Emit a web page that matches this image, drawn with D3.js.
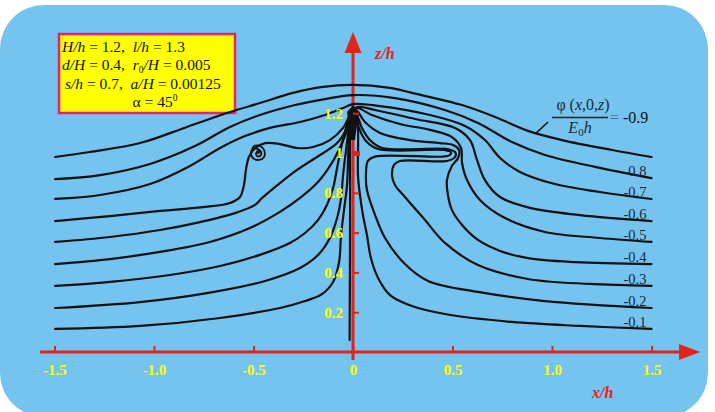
<!DOCTYPE html>
<html>
<head>
<meta charset="utf-8">
<script src="https://cdn.jsdelivr.net/npm/d3@7"></script>
<style>
  body { margin: 0; background: #fff; }
  svg { display: block; font-family: "Liberation Serif", "Times New Roman", serif; }
  .pre { white-space: pre; }
</style>
</head>
<body>
<svg id="chart" width="715" height="412"></svg>
<script>
// tick values and labels
const xTicks = [-1.5, -1, -0.5, 0, 0.5, 1, 1.5];
const xTickLabels = ['-1.5', '-1.0', '-0.5', '0', '0.5', '1.0', '1.5'];
const zTicks = [0.2, 0.4, 0.6, 0.8, 1, 1.2];
const zTickLabels = ['0.2', '0.4', '0.6', '0.8', '1', '1.2'];

// contour levels phi(x,0,z)/(E0 h)
const levels = [-0.1, -0.2, -0.3, -0.4, -0.5, -0.6, -0.7, -0.8, -0.9];

// contour points [x/h, z/h], left edge -> right edge
const phi01 = [[-1.497,0.116],[-1.070,0.131],[-0.668,0.171],[-0.367,0.221],[-0.241,0.256],[-0.156,0.291],[-0.100,0.352],[-0.070,0.452],[-0.060,0.588],[-0.045,0.714],[-0.030,0.839],[-0.025,0.965],[-0.020,1.090],[-0.005,1.201],
  [0.015,1.206],[0.025,1.116],[0.025,0.889],[0.035,0.789],[0.050,0.688],[0.070,0.588],[0.090,0.472],[0.126,0.372],[0.186,0.286],[0.296,0.231],[0.462,0.191],[0.799,0.151],[1.141,0.131],[1.5,0.116]];
const phi02 = [[-1.497,0.221],[-1.070,0.251],[-0.734,0.296],[-0.442,0.357],[-0.266,0.422],[-0.176,0.487],[-0.116,0.573],[-0.080,0.673],[-0.060,0.774],[-0.050,0.889],[-0.035,1.015],[-0.020,1.126],[-0.005,1.201],
  [0.010,1.206],[0.030,1.126],[0.065,1.060],[0.126,1.020],[0.462,1.015],[0.492,1.005],[0.487,0.990],[0.452,0.982],[0.111,0.982],[0.075,0.960],[0.065,0.889],[0.070,0.814],[0.111,0.688],[0.161,0.573],[0.261,0.442],[0.377,0.357],[0.628,0.302],[0.965,0.256],[1.5,0.221]];
const phi03 = [[-1.497,0.332],[-1.221,0.352],[-0.920,0.387],[-0.668,0.432],[-0.457,0.492],[-0.317,0.548],[-0.241,0.598],[-0.176,0.663],[-0.131,0.739],[-0.100,0.824],[-0.080,0.925],[-0.060,1.025],[-0.035,1.126],[-0.010,1.201],
  [0.010,1.206],[0.045,1.126],[0.085,1.065],[0.146,1.025],[0.472,1.020],[0.513,1.005],[0.513,0.980],[0.472,0.960],[0.236,0.960],[0.206,0.940],[0.196,0.889],[0.211,0.839],[0.261,0.779],[0.362,0.663],[0.462,0.548],[0.628,0.437],[0.879,0.367],[1.191,0.342],[1.5,0.332]];
const phi04 = [[-1.497,0.442],[-1.221,0.467],[-0.970,0.503],[-0.719,0.553],[-0.518,0.623],[-0.367,0.704],[-0.266,0.774],[-0.176,0.854],[-0.106,0.950],[-0.055,1.050],[-0.020,1.141],[-0.005,1.201],
  [0.015,1.216],[0.060,1.156],[0.136,1.101],[0.286,1.065],[0.437,1.050],[0.503,1.040],[0.533,1.015],[0.528,0.975],[0.497,0.935],[0.472,0.864],[0.477,0.789],[0.497,0.714],[0.548,0.638],[0.628,0.563],[0.739,0.508],[0.879,0.472],[1.116,0.452],[1.5,0.442]];
const phi05 = [[-1.497,0.553],[-1.221,0.578],[-0.970,0.613],[-0.769,0.653],[-0.593,0.698],[-0.492,0.739],[-0.457,0.774],[-0.367,0.849],[-0.281,0.915],[-0.181,0.980],[-0.080,1.050],[-0.030,1.126],[-0.005,1.206],
  [0.020,1.226],[0.095,1.191],[0.236,1.146],[0.387,1.116],[0.497,1.080],[0.543,1.025],[0.548,0.950],[0.573,0.864],[0.638,0.764],[0.764,0.673],[0.965,0.603],[1.241,0.573],[1.5,0.553]];
const phi06 = [[-1.497,0.658],[-1.221,0.683],[-0.970,0.709],[-0.744,0.729],[-0.618,0.749],[-0.568,0.779],[-0.548,0.839],[-0.538,0.915],[-0.523,0.980],[-0.492,1.025],[-0.442,1.050],[-0.367,1.045],[-0.281,1.025],[-0.201,1.030],[-0.116,1.065],[-0.050,1.126],[-0.010,1.201],
  [0.020,1.231],[0.111,1.216],[0.312,1.171],[0.513,1.126],[0.588,1.065],[0.623,0.965],[0.663,0.864],[0.739,0.779],[0.889,0.724],[1.141,0.688],[1.5,0.658]];
const phi07 = [[-1.497,0.769],[-1.271,0.789],[-1.020,0.844],[-0.819,0.935],[-0.668,1.025],[-0.543,1.085],[-0.417,1.126],[-0.266,1.156],[-0.141,1.191],[-0.050,1.226],[0,1.246],
  [0.136,1.236],[0.387,1.191],[0.563,1.136],[0.663,1.065],[0.739,0.975],[0.839,0.905],[1.015,0.844],[1.241,0.804],[1.5,0.769]];
const phi08 = [[-1.497,0.869],[-1.271,0.889],[-1.020,0.945],[-0.794,1.035],[-0.618,1.131],[-0.467,1.191],[-0.291,1.241],[-0.141,1.271],[0,1.291],
  [0.211,1.276],[0.462,1.216],[0.628,1.151],[0.799,1.055],[0.965,0.990],[1.216,0.930],[1.5,0.874]];
const phi09 = [[-1.497,0.980],[-1.322,1.005],[-1.070,1.050],[-0.834,1.131],[-0.618,1.206],[-0.467,1.251],[-0.302,1.302],[-0.151,1.332],[0,1.342],
  [0.186,1.327],[0.296,1.302],[0.548,1.241],[0.714,1.181],[0.879,1.111],[1.050,1.065],[1.302,1.015],[1.5,0.980]];

// line hugging the z axis, the small eddy on the left, the dark spot at the source
const axisHug = [[-0.015,1.17],[-0.015,0.6],[-0.017,0.06]];
const eddy = [[-0.508,1.015],[-0.497,1.035],[-0.467,1.035],[-0.447,1.015],[-0.447,0.980],[-0.472,0.965],[-0.503,0.975],[-0.513,1.000],[-0.503,1.020],[-0.477,1.020],[-0.462,1.005],[-0.467,0.985],[-0.482,0.985],[-0.487,1.000],[-0.477,1.005]];
const sourceSpot = [[-0.030,1.206],[0,1.241],[0.030,1.206],[0.020,1.141],[0.010,1.065],[-0.010,1.065],[-0.020,1.141]];

const contours = [phi01, phi02, phi03, phi04, phi05, phi06, phi07, phi08, phi09]
  .map((pts, i) => ({ level: levels[i], pts }));

const red = '#e2231a';
const ink = '#111';

const svg = d3.select('#chart');
const x = d3.scaleLinear().domain([-1.5, 1.5]).range([54.5, 651.5]);
const z = d3.scaleLinear().domain([0, 1.2]).range([352, 113.2]);

// background card
svg.append('rect').attr('x', 0).attr('y', 5).attr('width', 708).attr('height', 412)
  .attr('rx', 44).attr('fill', '#75c4ef');

// parameter box
const box = svg.append('g');
box.append('rect').attr('x', 59).attr('y', 34).attr('width', 176).attr('height', 79)
  .attr('fill', '#ffff00').attr('stroke', '#e4246f').attr('stroke-width', 2.5);
// parts: [text, style, dy]
function boxLine(xp, yp, parts, anchor) {
  const txt = box.append('text').attr('x', xp).attr('y', yp).attr('font-size', 15.5)
    .attr('fill', '#111').attr('class', 'pre').attr('text-anchor', anchor || 'start');
  parts.forEach(p => {
    const s = txt.append('tspan').text(p[0]);
    if (p[1] === 'i') s.attr('font-style', 'italic');
    if (p[1] === 'sub' || p[1] === 'sup') s.attr('font-size', 9.5);
    if (p[2]) s.attr('dy', p[2]);
  });
}
boxLine(62, 52, [['H/h', 'i'], [' = 1.2,  '], ['l/h', 'i'], [' = 1.3']]);
boxLine(62, 70, [['d/H', 'i'], [' = 0.4,  '], ['r', 'i'], ['0', 'sub', 2.5], ['/H', 'i', -2.5], [' = 0.005']]);
boxLine(65, 88.5, [['s/h', 'i'], [' = 0.7,  '], ['a/H', 'i'], [' = 0.00125']]);
boxLine(155, 107, [['\u03b1 = 45'], ['0', 'sup', -6]], 'middle');

// axes with arrows
const axes = svg.append('g');
axes.append('line').attr('x1', x(-1.573)).attr('x2', x(1.66)).attr('y1', z(0)).attr('y2', z(0))
  .attr('stroke', red).attr('stroke-width', 3);
const xTip = x(1.744);
axes.append('path').attr('d', `M${xTip},${z(0)}L${xTip - 21},${z(0) - 8}L${xTip - 21},${z(0) + 8}Z`).attr('fill', red);
axes.append('line').attr('x1', x(0)).attr('x2', x(0)).attr('y1', z(-0.04)).attr('y2', z(1.52))
  .attr('stroke', red).attr('stroke-width', 3);
const zTip = z(1.608);
axes.append('path').attr('d', `M${x(0)},${zTip}L${x(0) - 8.5},${zTip + 21}L${x(0) + 8.5},${zTip + 21}Z`).attr('fill', red);

const xAxis = svg.append('g').attr('transform', `translate(0,${z(0)})`)
  .call(d3.axisBottom(x).tickValues(xTicks).tickSizeInner(-6).tickSizeOuter(0).tickPadding(12)
    .tickFormat((d, i) => xTickLabels[i]));
xAxis.select('.domain').remove();
xAxis.selectAll('.tick line').attr('stroke', red).attr('stroke-width', 2);

const zAxis = svg.append('g').attr('transform', `translate(${x(0)},0)`)
  .call(d3.axisLeft(z).tickValues(zTicks).tickSizeInner(-6).tickSizeOuter(0).tickPadding(10)
    .tickFormat((d, i) => zTickLabels[i]));
zAxis.select('.domain').remove();
zAxis.selectAll('.tick line').attr('stroke', red)
  .attr('stroke-width', d => d === 1 ? 5 : 2).attr('x2', d => d === 1 ? 7 : 6);

// contours
const line = d3.line().x(d => x(d[0])).y(d => z(d[1])).curve(d3.curveCatmullRom.alpha(0.5));
const lines = svg.append('g').attr('fill', 'none').attr('stroke', ink)
  .attr('stroke-width', 2.2).attr('stroke-linejoin', 'round').attr('stroke-linecap', 'round');
lines.selectAll('path.contour').data(contours).join('path').attr('class', 'contour')
  .attr('d', d => line(d.pts));
lines.append('path').attr('d', line(axisHug));
lines.append('path').attr('d', line(eddy)).attr('stroke-width', 1.8);
svg.append('circle').attr('cx', x(eddy[eddy.length - 1][0])).attr('cy', z(eddy[eddy.length - 1][1]))
  .attr('r', 2).attr('fill', ink);
svg.append('path').attr('d', d3.line().x(d => x(d[0])).y(d => z(d[1])).curve(d3.curveLinearClosed)(sourceSpot))
  .attr('fill', ink);

// tick label styling (drawn above the contours)
[xAxis, zAxis].forEach(g => {
  g.raise();
  g.selectAll('.tick text').attr('fill', '#ffff00').attr('font-weight', 'bold')
    .attr('font-size', 15).attr('font-family', '"Liberation Serif", "Times New Roman", serif');
});

// level labels on the right
const labelColor = '#1c2733';
svg.append('g').selectAll('text').data(contours.filter(c => c.level !== -0.9)).join('text')
  .attr('x', d => x(d.pts[d.pts.length - 1][0]) - 5)
  .attr('y', d => z(d.pts[d.pts.length - 1][1]) - 2)
  .attr('text-anchor', 'end').attr('font-size', 14.5).attr('fill', labelColor)
  .text(d => String(d.level));

// fraction label for the -0.9 line
const top9 = contours.find(c => c.level === -0.9);
const fr = svg.append('g').attr('fill', labelColor).attr('font-size', 16);
const num = fr.append('text').attr('x', 583).attr('y', 110).attr('text-anchor', 'middle').attr('class', 'pre');
num.append('tspan').text('\u03c6 (');
num.append('tspan').text('x').attr('font-style', 'italic');
num.append('tspan').text(',0,');
num.append('tspan').text('z').attr('font-style', 'italic');
num.append('tspan').text(')');
fr.append('line').attr('x1', 552).attr('x2', 608).attr('y1', 117.5).attr('y2', 117.5)
  .attr('stroke', labelColor).attr('stroke-width', 1.3);
const den = fr.append('text').attr('x', 580).attr('y', 133).attr('text-anchor', 'middle');
den.append('tspan').text('E').attr('font-style', 'italic');
den.append('tspan').text('0').attr('font-size', 11).attr('dy', 3);
den.append('tspan').text('h').attr('font-style', 'italic').attr('dy', -3);
const eq = fr.append('text').attr('x', 610).attr('y', 123).attr('class', 'pre');
eq.append('tspan').text('= ').attr('fill', '#4d6f8e');
eq.append('tspan').text(String(top9.level)).attr('fill', '#111');
svg.append('line').attr('x1', x(0.98)).attr('y1', z(1.156)).attr('x2', x(0.92)).attr('y2', z(1.10))
  .attr('stroke', ink).attr('stroke-width', 1.5);

// axis titles
svg.append('text').attr('x', 375).attr('y', 59).attr('fill', red).attr('font-size', 16)
  .attr('font-style', 'italic').attr('font-weight', 'bold').text('z/h');
svg.append('text').attr('x', 592).attr('y', 398).attr('fill', red).attr('font-size', 16)
  .attr('font-style', 'italic').attr('font-weight', 'bold').text('x/h');
</script>
</body>
</html>
